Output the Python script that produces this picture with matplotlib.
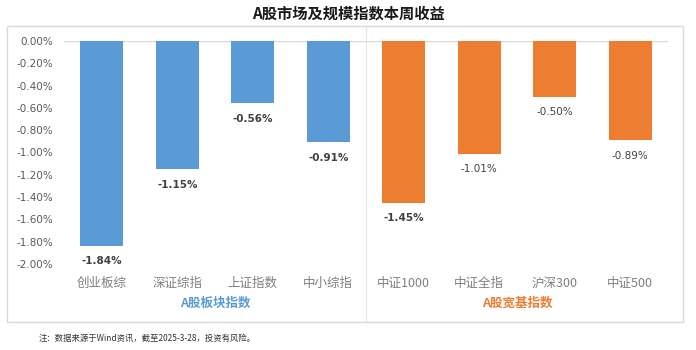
import matplotlib
matplotlib.use('Agg')
import matplotlib.pyplot as plt
from matplotlib.patches import Rectangle

plt.rcParams['font.family'] = ['Noto Sans CJK SC', 'DejaVu Sans']

# data
board_names = ['创业板综', '深证综指', '上证指数', '中小综指']
board_returns = [-1.84, -1.15, -0.56, -0.91]
broad_names = ['中证1000', '中证全指', '沪深300', '中证500']
broad_returns = [-1.45, -1.01, -0.50, -0.89]
group_names = ['A股板块指数', 'A股宽基指数']
yticks = [0.0, -0.2, -0.4, -0.6, -0.8, -1.0, -1.2, -1.4, -1.6, -1.8, -2.0]

blue = '#5B9BD5'
orange = '#ED7D31'
grey = '#595959'

fig = plt.figure(figsize=(6.96, 3.5), dpi=100)
ax = fig.add_axes([64/696, 1-264/350, 604/696, 223/350])

names = board_names + broad_names
values = board_returns + broad_returns
colors = [blue]*len(board_names) + [orange]*len(broad_names)
x = list(range(len(names)))
bars = ax.bar(x, values, width=0.57, color=colors, zorder=2)

# data labels, right group mostly not bold like the source
for i, (b, v) in enumerate(zip(bars, values)):
    weight = 'bold' if i < 5 else 'normal'
    ax.annotate(f'{v:.2f}%', (b.get_x() + b.get_width()/2, v),
                xytext=(0, -11), textcoords='offset points',
                ha='center', va='center', fontsize=7.5, fontweight=weight,
                color='#404040', family='DejaVu Sans')

ax.set_xlim(-0.5, len(names) - 0.5)
ax.set_ylim(-2.0, 0.0)
ax.set_yticks(yticks)
ax.set_yticklabels([f'{t:.2f}%' for t in yticks], family='DejaVu Sans',
                   fontsize=7.5, color=grey)
ax.set_xticks(x)
ax.set_xticklabels(names, fontsize=9, color='#7f7f7f')
ax.tick_params(axis='both', length=0)
ax.tick_params(axis='x', pad=9)
ax.tick_params(axis='y', pad=8)
for s in ax.spines.values():
    s.set_visible(False)
ax.axhline(0, color='#D9D9D9', lw=1, zorder=1)

# separator between groups
ax.axvline(3.5, ymin=-0.26, ymax=1.067, color='#E3E3E3', lw=0.8, clip_on=False)

ax.text(1.5, -0.175, group_names[0], transform=ax.get_xaxis_transform(),
        ha='center', va='center', fontsize=9, fontweight='bold', color=blue)
ax.text(5.5, -0.175, group_names[1], transform=ax.get_xaxis_transform(),
        ha='center', va='center', fontsize=9, fontweight='bold', color=orange)

# outer frame
fig.patches.append(Rectangle((7/696, 1-322/350), 676/696, 296/350,
                             transform=fig.transFigure, fill=False,
                             edgecolor='#D9D9D9', lw=1))

fig.text(0.5, 1-14/350, 'A股市场及规模指数本周收益', ha='center', va='center',
         fontsize=11, fontweight='bold', color='#1a1a1a')
fig.text(39/696, 1-338/350, '注：数据来源于Wind资讯，截至2025-3-28，投资有风险。',
         ha='left', va='center', fontsize=6, color='#333333')

fig.savefig('out.png', dpi=100)
